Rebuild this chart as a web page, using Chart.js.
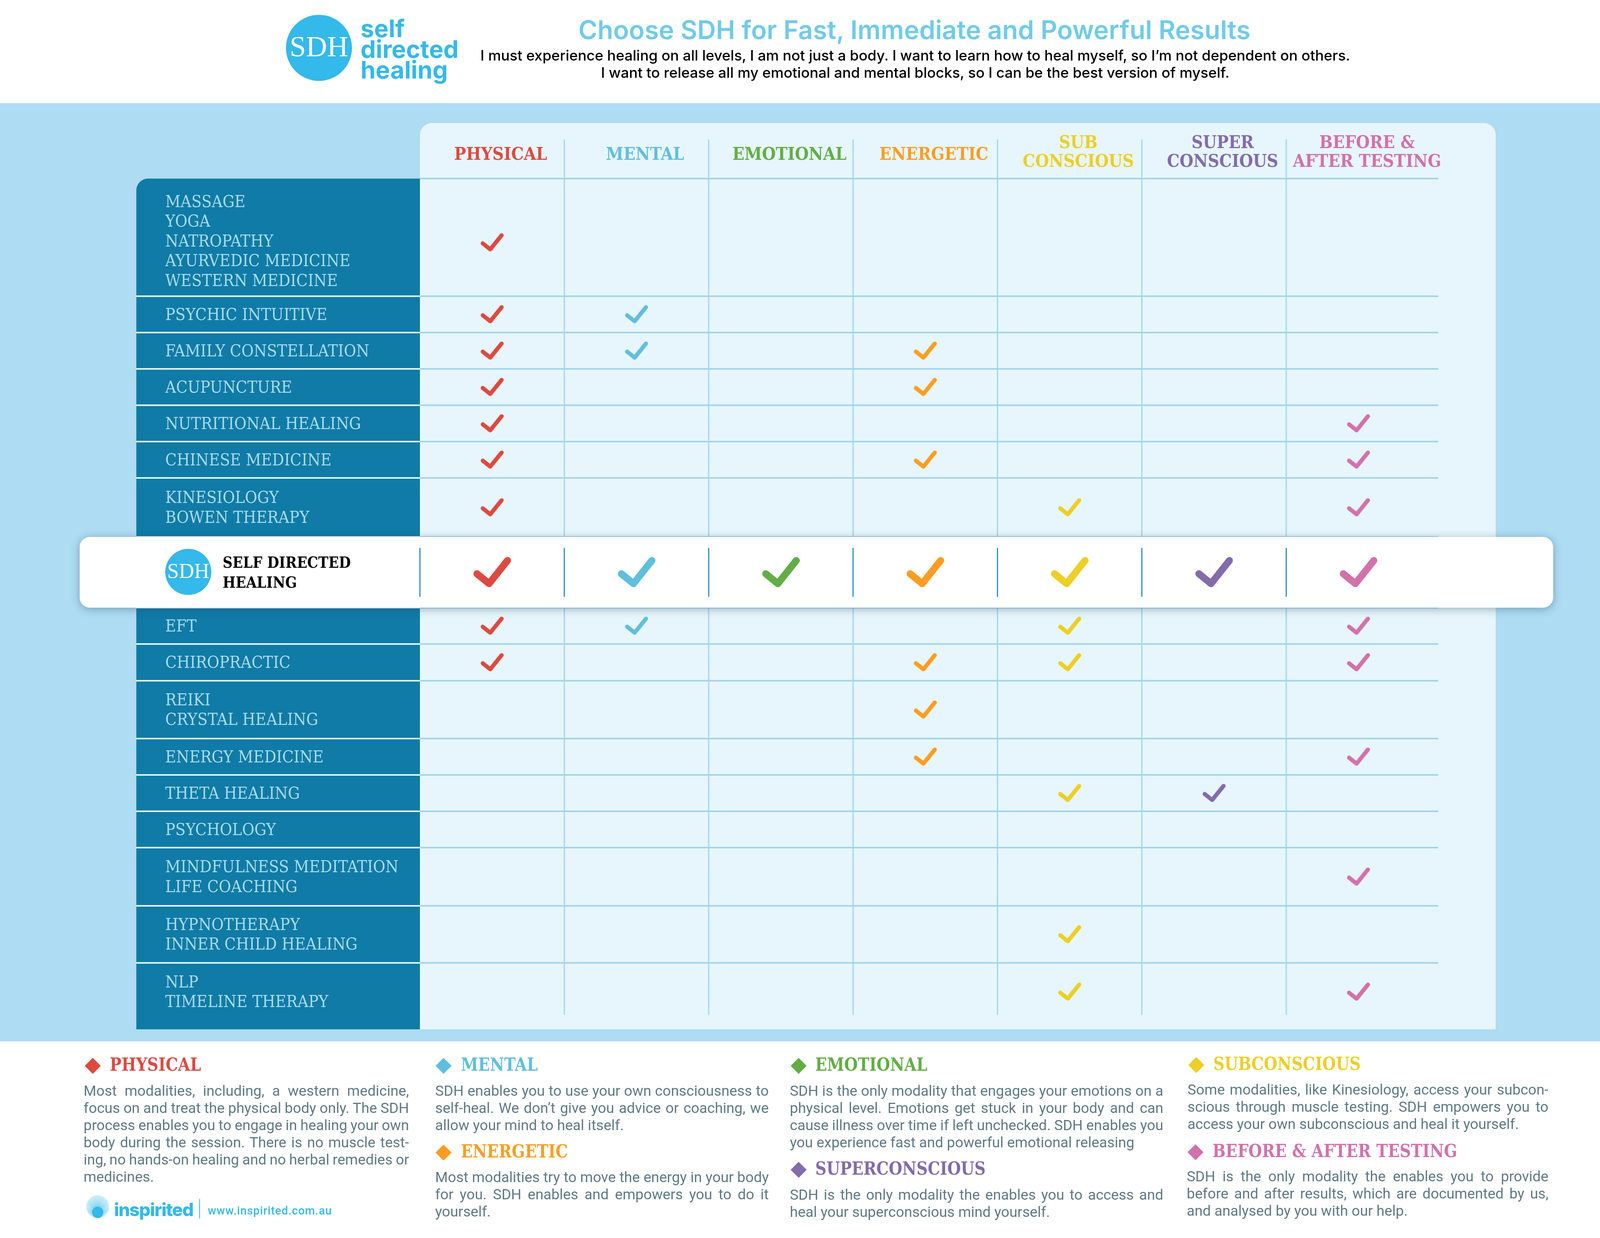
<!DOCTYPE html>
<html>
<head>
<meta charset="utf-8">
<script src="https://cdn.jsdelivr.net/npm/chart.js@4"></script>
<style>
html, body { margin: 0; padding: 0; background: #fff; }
#page { position: relative; width: 4168px; height: 3168px; overflow: hidden; }
#chart { position: absolute; left: 0; top: 0; }
.t { position: absolute; white-space: nowrap; }
.head { font: bold 47px "DejaVu Serif Condensed", "DejaVu Serif", serif; line-height: 50px; transform: scaleX(0.94); transform-origin: left center; }
.line { position: absolute; white-space: nowrap; font: 400 37.2px Roboto, sans-serif; color: #5f7a85; line-height: 44px; }
.dia { position: absolute; width: 29px; height: 29px; transform: rotate(45deg); }
</style>
</head>
<body>
<div id="page"><canvas id="chart" width="4168" height="3168"></canvas></div>
<script>
const columns = ['PHYSICAL', 'MENTAL', 'EMOTIONAL', 'ENERGETIC', ['SUB', 'CONSCIOUS'], ['SUPER', 'CONSCIOUS'], ['BEFORE &', 'AFTER TESTING']];
const rowLabels = [
    ['MASSAGE', 'YOGA', 'NATROPATHY', 'AYURVEDIC MEDICINE', 'WESTERN MEDICINE'],
    'PSYCHIC INTUITIVE',
    'FAMILY CONSTELLATION',
    'ACUPUNCTURE',
    'NUTRITIONAL HEALING',
    'CHINESE MEDICINE',
    ['KINESIOLOGY', 'BOWEN THERAPY'],
    ['SELF DIRECTED', 'HEALING'],
    'EFT',
    'CHIROPRACTIC',
    ['REIKI', 'CRYSTAL HEALING'],
    'ENERGY MEDICINE',
    'THETA HEALING',
    'PSYCHOLOGY',
    ['MINDFULNESS MEDITATION', 'LIFE COACHING'],
    ['HYPNOTHERAPY', 'INNER CHILD HEALING'],
    ['NLP', 'TIMELINE THERAPY']
];

// which rows get a tick, per column
const physicalRows = [0, 1, 2, 3, 4, 5, 6, 7, 8, 9];
const mentalRows = [1, 2, 7, 8];
const emotionalRows = [7];
const energeticRows = [2, 3, 5, 7, 9, 10, 11];
const subconsciousRows = [6, 7, 8, 9, 12, 15, 16];
const superconsciousRows = [7, 12];
const beforeAfterRows = [4, 5, 6, 7, 8, 9, 11, 14, 16];
const columnRows = [physicalRows, mentalRows, emotionalRows, energeticRows, subconsciousRows, superconsciousRows, beforeAfterRows];

const colours = ['#dd4a40', '#60bfdd', '#62ae45', '#fb9d22', '#edcf26', '#836bac', '#d371ab'];

// row heights down the table, same units as the y scale
const rowHeights = [301, 93, 93, 93, 93, 93, 151, 181, 93, 94, 148, 93, 93, 93, 149, 146, 148];
const tableBottomGap = 22;
const firstRowDrop = 13;
const firstLabelRise = 4;
const HIGHLIGHT_ROW = 7;

const notes = [
    { title: 'PHYSICAL', colour: colours[0], x: 214, w: 833, headX: 281, dx: 237, dy: 2727, textY: 2769, lines: [
        'Most modalities, including, a western medicine,', 'focus on and treat the physical body only. The SDH', 'process enables you to engage in healing your own',
        'body during the session. There is no muscle test-', 'ing, no hands-on healing and no herbal remedies or', 'medicines.'] },
    { title: 'MENTAL', colour: colours[1], x: 1114, w: 854, headX: 1180, dx: 1135, dy: 2727, textY: 2769, lines: [
        'SDH enables you to use your own consciousness to', 'self-heal. We don\u2019t give you advice or coaching, we', 'allow your mind to heal itself.'] },
    { title: 'ENERGETIC', colour: colours[3], x: 1114, w: 854, headX: 1180, dx: 1135, dy: 2949, textY: 2990, lines: [
        'Most modalities try to move the energy in your body', 'for you. SDH enables and empowers you to do it', 'yourself.'] },
    { title: 'EMOTIONAL', colour: colours[2], x: 2022, w: 956, headX: 2087, dx: 2044, dy: 2727, textY: 2769, lines: [
        'SDH is the only modality that engages your  emotions on a', 'physical level.  Emotions get stuck in your body and can', 'cause illness over time if left  unchecked. SDH enables you',
        'you experience fast and powerful emotional releasing'] },
    { title: 'SUPERCONSCIOUS', colour: colours[5], x: 2022, w: 956, headX: 2087, dx: 2044, dy: 2993, textY: 3035, lines: [
        'SDH is the only modality the enables you to access and', 'heal your superconscious mind yourself.'] },
    { title: 'SUBCONSCIOUS', colour: colours[4], x: 3040, w: 924, headX: 3106, dx: 3062, dy: 2725, textY: 2766, lines: [
        'Some modalities, like Kinesiology, access your subcon-', 'scious through muscle testing. SDH empowers you to', 'access your own subconscious and heal it yourself.'] },
    { title: 'BEFORE & AFTER TESTING', colour: colours[6], x: 3038, w: 926, headX: 3104, dx: 3060, dy: 2948, textY: 2988, lines: [
        'SDH is the only modality the enables you to provide', 'before and after results, which are documented by us,', 'and analysed by you with our help.'] }
];

const page = document.getElementById('page');

function addText(text, x, y, css) {
    const el = document.createElement('div');
    el.className = 't';
    el.textContent = text;
    el.style.cssText = `left:${x}px;top:${y}px;` + css;
    page.appendChild(el);
    return el;
}

// header
addText('self', 923, 46, 'font:700 62px Inter,sans-serif;color:#33b9ea;line-height:54px;');
addText('directed', 923, 99, 'font:700 62px Inter,sans-serif;color:#33b9ea;line-height:54px;');
addText('healing', 923, 152, 'font:700 62px Inter,sans-serif;color:#33b9ea;line-height:54px;');
addText('Choose SDH for Fast, Immediate and Powerful Results', 1398, 38, 'width:1886px;text-align:center;font:600 66px Inter,sans-serif;color:#70cbea;line-height:76px;');
addText('I must experience healing on all levels, I am not just a body. I want to learn how to heal myself, so I\u2019m not dependent on others.', 1000, 120, 'width:2686px;text-align:center;font:500 37px Inter,sans-serif;color:#000;line-height:44px;');
addText('I want to release all my emotional and mental blocks, so I can be the best version of myself.', 1000, 164, 'width:2686px;text-align:center;font:500 37px Inter,sans-serif;color:#000;line-height:44px;');

// footer notes
notes.forEach(n => {
    const d = document.createElement('div');
    d.className = 'dia';
    d.style.cssText = `left:${n.dx - 14.5}px;top:${n.dy - 14.5}px;background:${n.colour};`;
    page.appendChild(d);
    const h = document.createElement('div');
    h.className = 't head';
    h.textContent = n.title;
    h.style.cssText = `left:${n.headX}px;top:${n.dy - 28}px;color:${n.colour};`;
    page.appendChild(h);
    n.lines.forEach((line, i) => {
        const el = document.createElement('div');
        el.className = 'line';
        el.textContent = line;
        el.style.cssText = `left:${n.x}px;top:${n.textY + i * 44}px;`;
        page.appendChild(el);
        // justify by hand with word spacing, the lines must not rewrap
        if (i < n.lines.length - 1) {
            const gaps = line.trim().split(/\s+/).length - 1;
            el.style.wordSpacing = (n.w - el.getBoundingClientRect().width) / gaps + 'px';
        }
    });
});

// inspirited footer logo text
addText('inspirited', 292, 3070, 'font:800 46px Inter,sans-serif;color:#33b9ea;line-height:50px;letter-spacing:-1.5px;');
addText('www.inspirited.com.au', 532, 3080, 'font:500 29px Roboto,sans-serif;color:#33b9ea;line-height:36px;letter-spacing:1px;');
const sep = document.createElement('div');
sep.style.cssText = 'position:absolute;left:510px;top:3068px;width:2px;height:50px;background:#33b9ea;';
page.appendChild(sep);

// row geometry from the heights
const rowEdges = [0];
rowHeights.forEach(h => rowEdges.push(rowEdges[rowEdges.length - 1] + h));
const rowMid = rowHeights.map((h, i) => rowEdges[i] + h / 2);
rowMid[0] += firstRowDrop;
const tableHeight = rowEdges[rowEdges.length - 1] + tableBottomGap;

function makeTick(colour, w, h, stroke) {
    const c = document.createElement('canvas');
    c.width = w;
    c.height = h;
    const g = c.getContext('2d');
    g.beginPath();
    g.moveTo(0.1 * w, 0.548 * h);
    g.lineTo(0.42 * w, 0.867 * h);
    g.lineTo(0.905 * w, 0.118 * h);
    g.strokeStyle = colour;
    g.lineWidth = stroke;
    g.lineCap = 'round';
    g.lineJoin = 'round';
    g.stroke();
    return c;
}

function roundTop(g, x, y, w, h, r) {
    g.beginPath();
    g.roundRect(x, y, w, h, [r, r, 0, 0]);
    g.fill();
}

let headerShifted = false;

const backdrop = {
    id: 'backdrop',
    beforeDraw(chart) {
        const g = chart.ctx, xs = chart.scales.x, ys = chart.scales.y;
        const left = xs.getPixelForValue(0), right = xs.right;
        const top = ys.getPixelForValue(0), bottom = ys.getPixelForValue(tableHeight);

        // one-line column heads sit between the two-line ones
        if (!headerShifted) {
            xs.getLabelItems().forEach(item => {
                if (!Array.isArray(item.label)) item.textOffset -= 18;
            });
            headerShifted = true;
        }

        g.save();
        g.fillStyle = '#fff';
        g.fillRect(0, 0, chart.width, chart.height);
        g.fillStyle = '#addcf3';
        g.fillRect(0, 264, chart.width, 2401);

        g.fillStyle = '#e6f6fc';
        roundTop(g, left, 315, 3829 - left, bottom - 315, 30);
        g.fillStyle = '#107ba6';
        g.beginPath();
        g.roundRect(349, top, left - 349, bottom - top, [30, 0, 0, 0]);
        g.fill();

        // row rules
        rowEdges.forEach((edge, i) => {
            if (i === rowEdges.length - 1) return;
            const y = ys.getPixelForValue(edge);
            if (i > 0) {
                g.fillStyle = '#e6f6fc';
                g.fillRect(349, y - 2, left - 349, 4);
            }
            g.fillStyle = '#a3d3ef';
            g.fillRect(left, y - 2, right - left, 4);
        });
        // column rules
        g.fillStyle = '#a3d3ef';
        for (let i = 1; i < columns.length; i++) {
            g.fillRect(xs.getPixelForValue(i) - 1.5, 357, 3, 2597 - 357);
        }

        // self directed healing band
        const bandTop = ys.getPixelForValue(rowEdges[HIGHLIGHT_ROW]), bandBottom = ys.getPixelForValue(rowEdges[HIGHLIGHT_ROW + 1]);
        g.save();
        g.shadowColor = 'rgba(40, 70, 90, 0.4)';
        g.shadowBlur = 22;
        g.shadowOffsetY = 4;
        g.fillStyle = '#fff';
        g.beginPath();
        g.roundRect(204, bandTop, 3772, bandBottom - bandTop, 26);
        g.fill();
        g.restore();
        g.fillStyle = '#2a8fc0';
        for (let i = 0; i < columns.length; i++) {
            g.fillRect(xs.getPixelForValue(i) - 1.5, bandTop + 28, 3, bandBottom - bandTop - 56);
        }

        // round SDH badge and its label
        const midY = ys.getPixelForValue(rowMid[HIGHLIGHT_ROW]);
        g.fillStyle = '#33b9ea';
        g.beginPath();
        g.arc(482, midY - 1, 59, 0, Math.PI * 2);
        g.fill();
        g.beginPath();
        g.arc(816.5, 122.5, 84.5, 0, Math.PI * 2);
        g.fill();
        g.fillStyle = '#fff';
        g.textAlign = 'center';
        g.textBaseline = 'middle';
        g.font = '54px "Liberation Serif", serif';
        g.fillText('SDH', 482, midY);
        g.font = '75px "Liberation Serif", serif';
        g.fillText('SDH', 816.5, 124);
        g.fillStyle = '#000';
        g.textAlign = 'left';
        g.font = 'bold 39px "DejaVu Serif Condensed", "DejaVu Serif", serif';
        rowLabels[HIGHLIGHT_ROW].forEach((line, i) => g.fillText(line, 570, midY + 4 + (i - 0.5) * 50.5));

        // inspirited sunburst
        g.strokeStyle = 'rgba(51, 185, 234, 0.5)';
        g.lineWidth = 1.3;
        for (let a = 0; a < 72; a++) {
            const t = a / 72 * Math.PI * 2;
            g.beginPath();
            g.moveTo(250, 3102);
            g.lineTo(250 + Math.cos(t) * 29, 3088 + Math.sin(t) * 29);
            g.stroke();
        }
        g.fillStyle = '#33b9ea';
        g.beginPath();
        g.arc(250, 3102.5, 14.5, 0, Math.PI * 2);
        g.fill();
        g.restore();
    }
};

const datasets = columns.map((name, col) => {
    const small = makeTick(colours[col], 60, 48, 10.5);
    const large = makeTick(colours[col], 97, 79, 18);
    return {
        label: Array.isArray(name) ? name.join(' ') : name,
        data: columnRows[col].map(row => ({ x: col + 0.5, y: rowMid[row] })),
        pointRadius: 10,
        pointHoverRadius: 10,
        showLine: false,
        pointStyle: ctx => columnRows[col][ctx.dataIndex] === HIGHLIGHT_ROW ? large : small
    };
});

new Chart(document.getElementById('chart'), {
    type: 'scatter',
    data: { datasets },
    plugins: [backdrop],
    options: {
        responsive: false,
        devicePixelRatio: 1,
        animation: false,
        events: [],
        layout: { padding: { left: 423, right: 486, top: 0, bottom: 534 } },
        plugins: { legend: { display: false }, tooltip: { enabled: false } },
        scales: {
            x: {
                type: 'linear',
                position: 'top',
                min: 0,
                max: 7.053,
                grid: { display: false },
                border: { display: false },
                afterBuildTicks: s => { s.ticks = columns.map((c, i) => ({ value: i + 0.5 })); },
                afterFit: s => { s.height = 457; },
                ticks: {
                    autoSkip: false,
                    maxRotation: 0,
                    minRotation: 0,
                    labelOffset: 22,
                    padding: 10,
                    crossAlign: 'near',
                    color: ctx => colours[ctx.index],
                    font: { family: '"DejaVu Serif Condensed", "DejaVu Serif", serif', size: 45, weight: 'bold', lineHeight: 1.065 },
                    callback: (v, i) => columns[i]
                }
            },
            y: {
                type: 'linear',
                reverse: true,
                min: 0,
                max: tableHeight,
                grid: { display: false },
                border: { display: false },
                afterBuildTicks: s => { s.ticks = rowMid.map((v, i) => ({ value: i === 0 ? v - firstLabelRise : v })); },
                afterFit: s => { s.width = 652; },
                ticks: {
                    autoSkip: false,
                    padding: 0,
                    labelOffset: 3,
                    crossAlign: 'far',
                    color: '#a9dcf0',
                    font: { family: '"DejaVu Serif Condensed", "DejaVu Serif", serif', size: 42.7, lineHeight: 1.183 },
                    callback: (v, i) => i === HIGHLIGHT_ROW ? '' : rowLabels[i]
                }
            }
        }
    }
});
</script>
</body>
</html>
